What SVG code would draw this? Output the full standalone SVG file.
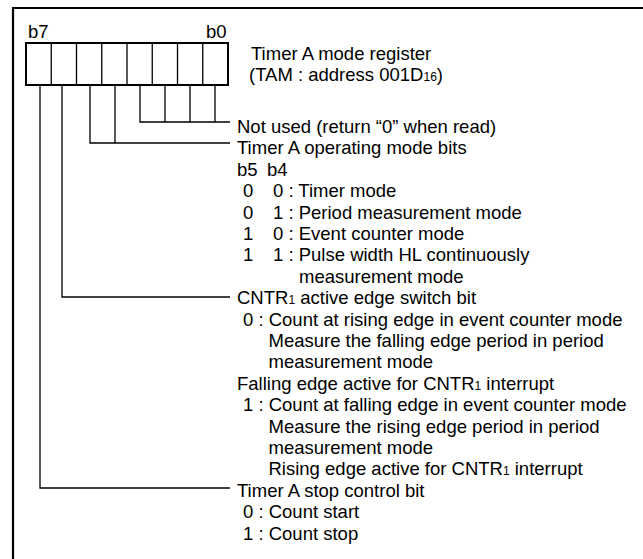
<svg xmlns="http://www.w3.org/2000/svg" width="643" height="559" viewBox="0 0 643 559">
<style>
text{font-family:"Liberation Sans",Arial,Helvetica,sans-serif;font-size:18.5px;fill:#000}
.sub{font-size:12px}
.ln{fill:none;stroke:#000;stroke-width:1.3}
.frame{fill:none;stroke:#000;stroke-width:2.2}
.box{fill:#fff;stroke:#000;stroke-width:2}
</style>
<rect width="643" height="559" fill="#fff"/>
<path class="frame" d="M13 560 V8 H644"/>
<g id="register">
<rect class="box" x="26" y="43" width="202" height="42"/>
<path class="ln" d="M51.25 43V85M76.5 43V85M101.75 43V85M127 43V85M152.25 43V85M177.5 43V85M202.75 43V85"/>
<text x="28" y="38">b7</text>
<text x="206" y="38">b0</text>
<text x="251" y="60">Timer A mode register</text>
<text x="249" y="81">(TAM : address 001D<tspan class="sub">16</tspan>)</text>
</g>
<g id="connectors">
<path class="ln" d="M140 85V122H230M165 85V122M190 85V122M215 85V122"/>
<path class="ln" d="M90 85V143H230M115 85V143"/>
<path class="ln" d="M62 85V297H230"/>
<path class="ln" d="M40 85V488H230"/>
</g>
<g id="not-used">
<text x="237" y="133">Not used (return “0” when read)</text>
</g>
<g id="mode-bits">
<text x="237" y="154.4">Timer A operating mode bits</text>
<text y="175.8"><tspan x="237">b5</tspan><tspan x="267">b4</tspan></text>
<text y="197.2"><tspan x="243">0</tspan><tspan x="273">0 : Timer mode</tspan></text>
<text y="218.6"><tspan x="243">0</tspan><tspan x="273">1 : Period measurement mode</tspan></text>
<text y="240"><tspan x="243">1</tspan><tspan x="273">0 : Event counter mode</tspan></text>
<text y="261.4"><tspan x="243">1</tspan><tspan x="273">1 : Pulse width HL continuously</tspan></text>
<text x="299" y="282.8">measurement mode</text>
</g>
<g id="cntr-edge">
<text x="237" y="304.2">CNTR<tspan class="sub">1</tspan> active edge switch bit</text>
<text x="243" y="325.6">0 : Count at rising edge in event counter mode</text>
<text x="268.5" y="347">Measure the falling edge period in period</text>
<text x="268.5" y="368.4">measurement mode</text>
<text x="237" y="389.8">Falling edge active for CNTR<tspan class="sub">1</tspan> interrupt</text>
<text x="243" y="411.2">1 : Count at falling edge in event counter mode</text>
<text x="268.5" y="432.6">Measure the rising edge period in period</text>
<text x="268.5" y="454">measurement mode</text>
<text x="268.5" y="475.4">Rising edge active for CNTR<tspan class="sub">1</tspan> interrupt</text>
</g>
<g id="stop-bit">
<text x="237" y="496.8">Timer A stop control bit</text>
<text x="243" y="518.2">0 : Count start</text>
<text x="243" y="539.6">1 : Count stop</text>
</g>
</svg>
